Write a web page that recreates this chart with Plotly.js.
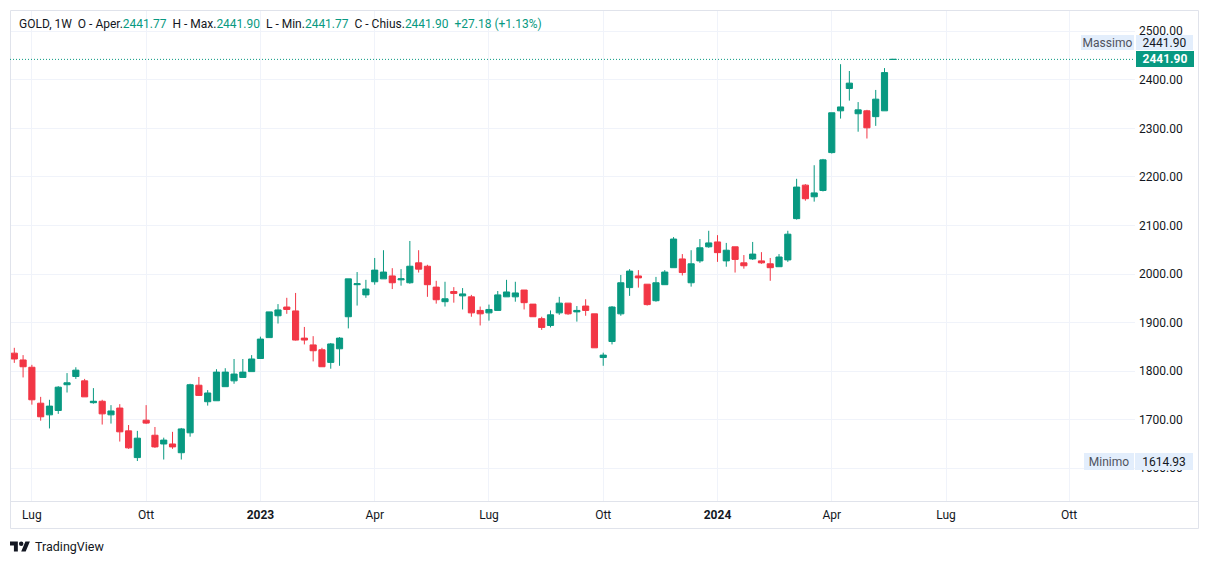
<!DOCTYPE html>
<html><head><meta charset="utf-8">
<script src="https://cdn.plot.ly/plotly-3.0.1.min.js"></script>
<style>html,body{margin:0;padding:0;background:#fff;} #chart{width:1209px;height:564px;}</style>
</head><body><div id="chart"></div>
<script>
// ---- Data (weekly candles, GOLD 1W) ----
const weeks = [
'2022-06-20','2022-06-27','2022-07-04','2022-07-11','2022-07-18','2022-07-25','2022-08-01','2022-08-08','2022-08-15','2022-08-22',
'2022-08-29','2022-09-05','2022-09-12','2022-09-19','2022-09-26','2022-10-03','2022-10-10','2022-10-17','2022-10-24','2022-10-31',
'2022-11-07','2022-11-14','2022-11-21','2022-11-28','2022-12-05','2022-12-12','2022-12-19','2022-12-26','2023-01-02','2023-01-09',
'2023-01-16','2023-01-23','2023-01-30','2023-02-06','2023-02-13','2023-02-20','2023-02-27','2023-03-06','2023-03-13','2023-03-20',
'2023-03-27','2023-04-03','2023-04-10','2023-04-17','2023-04-24','2023-05-01','2023-05-08','2023-05-15','2023-05-22','2023-05-29',
'2023-06-05','2023-06-12','2023-06-19','2023-06-26','2023-07-03','2023-07-10','2023-07-17','2023-07-24','2023-07-31','2023-08-07',
'2023-08-14','2023-08-21','2023-08-28','2023-09-04','2023-09-11','2023-09-18','2023-09-25','2023-10-02','2023-10-09','2023-10-16',
'2023-10-23','2023-10-30','2023-11-06','2023-11-13','2023-11-20','2023-11-27','2023-12-04','2023-12-11','2023-12-18','2023-12-25',
'2024-01-01','2024-01-08','2024-01-15','2024-01-22','2024-01-29','2024-02-05','2024-02-12','2024-02-19','2024-02-26','2024-03-04',
'2024-03-11','2024-03-18','2024-03-25','2024-04-01','2024-04-08','2024-04-15','2024-04-22','2024-04-29','2024-05-06','2024-05-13',
'2024-05-20'];
const opens = [
1837,1823,1808,1734,1710,1719,1772,1789,1780,1735,
1738,1710,1724,1677,1622,1699,1668,1650,1650,1632,
1673,1771,1737,1739,1768,1780,1787,1799,1826,1869,
1914,1932,1924,1868,1854,1844,1818,1846,1912,1978,
1957,1984,1990,1996,1988,1982,2023,2016,1973,1943,
1964,1955,1953,1925,1920,1925,1953,1953,1967,1938,
1908,1894,1920,1940,1922,1934,1918,1828,1861,1918,
1972,1996,1979,1945,1978,2013,2031,1982,2027,2056,
2066,2027,2056,2023,2031,2027,2021,2015,2029,2114,
2183,2159,2172,2250,2336,2382,2330,2336,2324,2336,
2441.77];
const highs = [
1848,1833,1813,1747,1741,1769,1796,1808,1784,1765,
1741,1730,1732,1689,1677,1730,1685,1663,1675,1683,
1774,1788,1761,1804,1806,1825,1825,1833,1871,1922,
1938,1951,1961,1891,1872,1848,1858,1870,1990,2004,
1988,2033,2049,2012,2010,2068,2049,2019,1986,1984,
1973,1971,1957,1933,1937,1965,1988,1984,1967,1938,
1912,1925,1953,1940,1934,1948,1918,1838,1934,1998,
2010,2008,1979,1994,2008,2076,2041,2049,2072,2089,
2080,2064,2056,2039,2066,2045,2033,2041,2089,2196,
2185,2224,2237,2332,2432,2418,2354,2338,2379,2424,
2441.90];
const lows = [
1817,1787,1731,1698,1682,1712,1756,1784,1747,1733,
1690,1692,1655,1640,1614.93,1691,1642,1618,1640,1618,
1665,1749,1729,1739,1768,1774,1787,1799,1826,1869,
1898,1918,1863,1855,1820,1809,1805,1811,1888,1935,
1951,1978,1990,1969,1976,1980,2003,1953,1939,1933,
1941,1927,1912,1894,1904,1925,1953,1943,1927,1912,
1885,1890,1916,1916,1902,1914,1848,1811,1855,1914,
1955,1972,1935,1943,1978,2013,1997,1974,2023,2054,
2025,2015,2003,2011,2029,2021,1986,2015,2025,2112,
2151,2149,2170,2248,2320,2357,2293,2279,2305,2336,
2441.77];
const closes = [
1825,1809,1741,1706,1728,1767,1776,1802,1747,1738,
1712,1718,1675,1642,1662,1693,1644,1658,1644,1681,
1772,1750,1755,1798,1798,1794,1798,1825,1866,1922,
1926,1927,1864,1864,1842,1809,1856,1868,1990,1980,
1969,2008,2004,1982,1990,2016,2010,1978,1947,1949,
1960,1959,1920,1918,1927,1957,1963,1961,1941,1912,
1890,1916,1940,1918,1925,1925,1848,1833,1932,1982,
2006,1992,1937,1982,2004,2072,2003,2021,2054,2064,
2044,2049,2030,2017,2041,2023,2013,2035,2082,2179,
2155,2167,2235,2332,2344,2393,2338,2301,2360,2414.72,
2441.90];
const tickDates  = ['2022-07-04','2022-10-03','2023-01-02','2023-04-03','2023-07-03','2023-10-02','2024-01-01','2024-04-01','2024-07-01','2024-10-07'];
const tickLabels = ['Lug','Ott','2023','Apr','Lug','Ott','2024','Apr','Lug','Ott'];
const symbolTitle = 'GOLD, 1W';
const maxLabel = 'Massimo';
const minLabel = 'Minimo';
const brand = 'TradingView';

// ---- Style ----
const GREEN = '#089981', RED = '#F23645', TXT = '#131722', GRID = '#f0f3fa', FRAME = '#e0e3eb', LBL_BG = '#e3eefc';
const FONT = 'Roboto, "Noto Sans", sans-serif';
const W = 1209, H = 564, PL = 10, PR = 1135, PT = 10, PB = 501;
const px2x = p => (p - PL) / (PR - PL);
const py2y = p => (PB - p) / (PB - PT);

// x range from bar spacing (8.79 px per weekly bar, first bar centre at 14.3 px)
const pxPerDay = 8.79 / 7, DAY = 86400000;
const firstMs = Date.parse(weeks[0] + 'T00:00:00Z');
const startMs = firstMs - (14.3 - PL) / pxPerDay * DAY;
const endMs = startMs + (PR - PL) / pxPerDay * DAY;
const iso = ms => new Date(ms).toISOString().replace('T', ' ').replace('Z', '');

const n = closes.length;
const lastO = opens[n-1], lastH = highs[n-1], lastL = lows[n-1], lastC = closes[n-1];
const chg = lastC - closes[n-2];
const pct = chg / closes[n-2] * 100;
const maxH = Math.max(...highs), minL = Math.min(...lows);
const g = v => '<span style="color:' + GREEN + '">' + v + '</span>';
const sp = '\u00a0\u00a0';
const header = symbolTitle + sp + 'O - Aper.' + g(lastO.toFixed(2)) + sp + 'H - Max.' + g(lastH.toFixed(2)) + sp +
  'L - Min.' + g(lastL.toFixed(2)) + sp + 'C - Chius.' + g(lastC.toFixed(2)) + sp +
  g((chg >= 0 ? '+' : '') + chg.toFixed(2) + ' (' + (pct >= 0 ? '+' : '') + pct.toFixed(2) + '%)');

const trace = {
  type: 'candlestick', x: weeks, open: opens, high: highs, low: lows, close: closes,
  increasing: {line: {color: GREEN, width: 1}, fillcolor: GREEN},
  decreasing: {line: {color: RED, width: 1}, fillcolor: RED},
  whiskerwidth: 0, hoverinfo: 'skip', showlegend: false
};

// TradingView logo path (36x28 design units) mapped to pixels
const LS = 0.56, LX = 10, LY = 539.3;
const lp = (X, Y) => px2x(LX + X * LS) + ',' + py2y(LY + Y * LS);
const logoPath = 'M' + lp(14,22) + 'L' + lp(7,22) + 'L' + lp(7,11) + 'L' + lp(0,11) + 'L' + lp(0,4) + 'L' + lp(14,4) + 'Z' +
  'M' + lp(28,22) + 'L' + lp(20,22) + 'L' + lp(27.5,4) + 'L' + lp(35.5,4) + 'Z';

const layout = {
  width: W, height: H,
  margin: {l: PL, r: W - PR, t: PT, b: H - PB, pad: 0},
  paper_bgcolor: '#ffffff', plot_bgcolor: '#ffffff',
  font: {family: FONT, size: 12, color: TXT},
  showlegend: false,
  boxgap: 0.3, boxgroupgap: 0,
  xaxis: {
    type: 'date', range: [iso(startMs), iso(endMs)],
    tickmode: 'array', tickvals: tickDates,
    ticktext: tickLabels.map(t => /^\d{4}$/.test(t) ? '<b>' + t + '</b>' : t),
    showgrid: true, gridcolor: GRID, gridwidth: 1, zeroline: false, showline: false,
    ticks: '', ticklabelstandoff: 5, tickfont: {size: 12, color: TXT},
    rangeslider: {visible: false}, fixedrange: true
  },
  yaxis: {
    side: 'right', range: [1532.6, 2543.6], tick0: 0, dtick: 100, tickformat: '.2f',
    showgrid: true, gridcolor: GRID, gridwidth: 1, zeroline: false, showline: false,
    ticks: '', ticklabelstandoff: 3, tickfont: {size: 12, color: TXT}, fixedrange: true
  },
  shapes: [
    {type: 'rect', xref: 'paper', yref: 'paper', x0: px2x(10.5), x1: px2x(1198.5), y0: py2y(528.5), y1: py2y(10.5),
     line: {color: FRAME, width: 1}, fillcolor: 'rgba(0,0,0,0)', layer: 'above'},
    {type: 'line', xref: 'paper', yref: 'paper', x0: px2x(10.5), x1: px2x(1198.5), y0: py2y(501.5), y1: py2y(501.5),
     line: {color: FRAME, width: 1}, layer: 'above'},
    {type: 'line', xref: 'paper', yref: 'y', x0: 0, x1: 1, y0: lastC, y1: lastC,
     line: {color: GREEN, width: 1, dash: '1px,2px'}, layer: 'above'},
    {type: 'path', xref: 'paper', yref: 'paper', path: logoPath, fillcolor: TXT, line: {width: 0}},
    {type: 'circle', xref: 'paper', yref: 'paper',
     x0: px2x(LX + 16 * LS), x1: px2x(LX + 24 * LS), y0: py2y(LY + 12 * LS), y1: py2y(LY + 4 * LS),
     fillcolor: TXT, line: {width: 0}}
  ],
  annotations: [
    {xref: 'paper', yref: 'paper', x: px2x(17), y: py2y(24), xanchor: 'left', yanchor: 'middle',
     text: header, showarrow: false, font: {size: 12, color: TXT}},
    // Massimo label
    {xref: 'paper', yref: 'paper', x: px2x(1134), y: py2y(42.6), xanchor: 'right', yanchor: 'middle',
     text: maxLabel, showarrow: false, bgcolor: LBL_BG, borderwidth: 0, borderpad: 0, width: 53, height: 15,
     font: {size: 12, color: '#50535e'}},
    {xref: 'paper', yref: 'paper', x: px2x(1136), y: py2y(42.6), xanchor: 'left', yanchor: 'middle',
     text: maxH.toFixed(2), showarrow: false, bgcolor: LBL_BG, borderwidth: 0, borderpad: 0, width: 57, height: 15,
     font: {size: 12, color: TXT}},
    // current price label
    {xref: 'paper', yref: 'y', x: px2x(1136), y: lastC, xanchor: 'left', yanchor: 'middle',
     text: '<b>' + lastC.toFixed(2) + '</b>', showarrow: false, bgcolor: GREEN, borderwidth: 0, borderpad: 0, width: 58, height: 16,
     font: {size: 12, color: '#ffffff'}},
    // Minimo label
    {xref: 'paper', yref: 'y', x: px2x(1134), y: minL, xanchor: 'right', yanchor: 'middle',
     text: minLabel, showarrow: false, bgcolor: LBL_BG, borderwidth: 0, borderpad: 0, width: 50, height: 17,
     font: {size: 12, color: '#50535e'}},
    {xref: 'paper', yref: 'y', x: px2x(1135), y: minL, xanchor: 'left', yanchor: 'middle',
     text: minL.toFixed(2), showarrow: false, bgcolor: LBL_BG, borderwidth: 0, borderpad: 0, width: 58, height: 17,
     font: {size: 12, color: TXT}},
    // brand
    {xref: 'paper', yref: 'paper', x: px2x(33), y: py2y(546), xanchor: 'left', yanchor: 'middle',
     text: brand, showarrow: false, font: {size: 12.5, color: TXT}}
  ]
};

Plotly.newPlot('chart', [trace], layout, {displayModeBar: false, staticPlot: true});
</script>
</body></html>
